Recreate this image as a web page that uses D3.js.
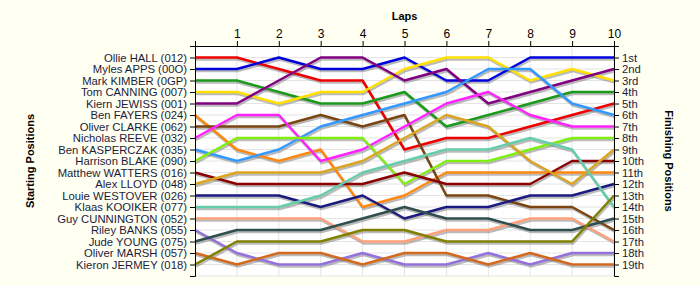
<!DOCTYPE html>
<html>

<head>
    <meta charset="UTF-8">
    <title>Lap Chart</title>
    <script src="https://cdn.jsdelivr.net/npm/d3@7"></script>
    <style>
        body {
            margin: 0;
            background: #fffff2;
            font-family: "Liberation Sans", Arial, sans-serif;
        }

        .axis text {
            font-size: 11.3px;
            fill: #1c1c3c;
        }

        .axis path,
        .axis line {
            stroke: #000;
        }

        .x-axis text {
            font-size: 12px;
            fill: #000;
        }

        .grid line {
            stroke: #e4e4e4;
            stroke-width: 1px;
        }

        .title {
            font-size: 11px;
            font-weight: bold;
            fill: #000;
        }

        .line {
            fill: none;
            stroke-width: 2.5px;
            stroke-linejoin: round;
        }

        .shadow {
            fill: none;
            stroke: #777;
            stroke-opacity: 0.5;
            stroke-width: 2.5px;
        }
    </style>
</head>

<body>
    <div class="chart"></div>

    <script>
        // laps 0..10
        const laps = [0, 1, 2, 3, 4, 5, 6, 7, 8, 9, 10];

        // drivers in starting order
        const drivers = ['Ollie HALL (012)', 'Myles APPS (00O)', 'Mark KIMBER (0GP)', 'Tom CANNING (007)',
            'Kiern JEWISS (001)', 'Ben FAYERS (024)', 'Oliver CLARKE (062)', 'Nicholas REEVE (032)',
            'Ben KASPERCZAK (035)', 'Harrison BLAKE (090)', 'Matthew WATTERS (016)', 'Alex LLOYD (048)',
            'Louie WESTOVER (026)', 'Klaas KOOIKER (077)', 'Guy CUNNINGTON (052)', 'Riley BANKS (055)',
            'Jude YOUNG (075)', 'Oliver MARSH (057)', 'Kieron JERMEY (018)'
        ];

        const colors = ['#ee0000', '#0000dd', '#1a9a1a', '#ffe000', '#800080', '#ff8811', '#7a4510',
            '#ff22ff', '#3399ff', '#80ee10', '#8b0000', '#daa520', '#1a1a80', '#66cdaa', '#ffa07a',
            '#9370db', '#2f4f4f', '#d2691e', '#808000'
        ];

        // position of each driver after each lap (lap 0 = start)
        const positions = [
            [1, 1, 2, 3, 3, 9, 8, 8, 7, 6, 5],
            [2, 2, 1, 2, 2, 1, 3, 3, 1, 1, 1],
            [3, 3, 4, 5, 5, 4, 7, 6, 5, 4, 4],
            [4, 4, 5, 4, 4, 2, 1, 1, 3, 2, 3],
            [5, 5, 3, 1, 1, 3, 2, 5, 4, 3, 2],
            [6, 9, 10, 9, 14, 13, 11, 11, 11, 11, 11],
            [7, 7, 7, 6, 7, 6, 13, 13, 14, 14, 16],
            [8, 6, 6, 10, 9, 7, 5, 4, 6, 7, 7],
            [9, 10, 9, 7, 6, 5, 4, 2, 2, 5, 6],
            [10, 8, 8, 8, 8, 12, 10, 10, 9, 8, 8],
            [11, 12, 12, 12, 12, 11, 12, 12, 12, 10, 10],
            [12, 11, 11, 11, 10, 8, 6, 7, 10, 12, 9],
            [13, 13, 13, 14, 13, 15, 14, 14, 13, 13, 12],
            [14, 14, 14, 13, 11, 10, 9, 9, 8, 9, 14],
            [15, 15, 15, 15, 17, 17, 16, 16, 15, 15, 17],
            [16, 18, 19, 19, 18, 19, 19, 18, 19, 18, 18],
            [17, 16, 16, 16, 15, 14, 15, 15, 16, 16, 15],
            [18, 19, 18, 18, 19, 18, 18, 19, 18, 19, 19],
            [19, 17, 17, 17, 16, 16, 17, 17, 17, 17, 13]
        ];

        const finishLabels = ['1st', '2nd', '3rd', '4th', '5th', '6th', '7th', '8th', '9th', '10th',
            '11th', '12th', '13th', '14th', '15th', '16th', '17th', '18th', '19th'
        ];

        const margin = {
            top: 46,
            right: 86,
            bottom: 9,
            left: 195
        };
        const width = 700 - margin.left - margin.right;
        const height = 285 - margin.top - margin.bottom;

        const x = d3.scaleLinear()
            .domain([0, 10])
            .range([0, width]);

        const y = d3.scaleLinear()
            .domain([0, 20])
            .range([0, height]);

        const svg = d3.select('.chart')
            .append('svg')
            .attr('width', 700)
            .attr('height', 285);

        const g = svg.append('g')
            .attr('transform', `translate(${ margin.left },${ margin.top })`);

        g.append('rect')
            .attr('width', width)
            .attr('height', height)
            .attr('fill', '#fff');

        // grid
        const grid = g.append('g').attr('class', 'grid');
        grid.selectAll('.v')
            .data(laps.slice(1))
            .enter()
            .append('line')
            .attr('x1', d => x(d))
            .attr('x2', d => x(d))
            .attr('y1', 0)
            .attr('y2', height);
        grid.selectAll('.h')
            .data(d3.range(1, 21))
            .enter()
            .append('line')
            .attr('x1', 0)
            .attr('x2', width)
            .attr('y1', d => y(d))
            .attr('y2', d => y(d));

        const lineGenerator = d3.line()
            .x((d, i) => x(laps[i]))
            .y(d => y(d));

        // shadows first
        g.append('g')
            .attr('transform', 'translate(1,2)')
            .selectAll()
            .data(positions)
            .enter()
            .append('path')
            .attr('class', 'shadow')
            .attr('d', lineGenerator);

        g.append('g')
            .selectAll()
            .data(positions)
            .enter()
            .append('path')
            .attr('class', 'line')
            .attr('d', lineGenerator)
            .style('stroke', (d, i) => colors[i]);

        // axes
        g.append('g')
            .attr('class', 'axis x-axis')
            .call(d3.axisTop(x).tickValues(laps.slice(1)).tickSize(5).tickPadding(3));

        g.append('g')
            .attr('class', 'axis y-axis')
            .call(d3.axisLeft(y)
                .tickValues(d3.range(1, 20))
                .tickSize(5)
                .tickPadding(3)
                .tickFormat(d => drivers[d - 1]));

        g.append('g')
            .attr('class', 'axis y-axis-right')
            .attr('transform', `translate(${ width },0)`)
            .call(d3.axisRight(y)
                .tickValues(d3.range(1, 20))
                .tickSize(5)
                .tickPadding(3)
                .tickFormat(d => finishLabels[d - 1]));

        // titles
        svg.append('text')
            .attr('class', 'title')
            .attr('x', margin.left + width / 2)
            .attr('y', 20)
            .attr('text-anchor', 'middle')
            .text('Laps');

        svg.append('text')
            .attr('class', 'title')
            .attr('transform', `translate(34,${ margin.top + height / 2 }) rotate(-90)`)
            .attr('text-anchor', 'middle')
            .text('Starting Positions');

        svg.append('text')
            .attr('class', 'title')
            .attr('transform', `translate(665,${ margin.top + height / 2 }) rotate(90)`)
            .attr('text-anchor', 'middle')
            .text('Finishing Positions');
    </script>
</body>

</html>
